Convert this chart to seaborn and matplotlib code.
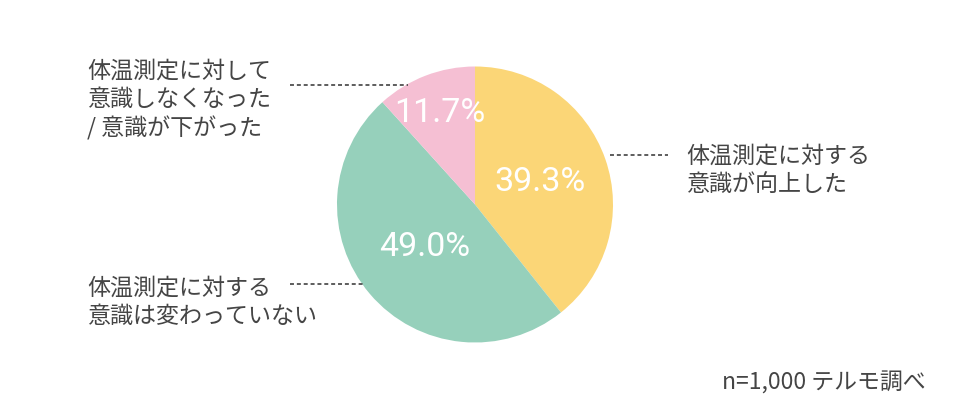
import numpy as np
import matplotlib
matplotlib.use("Agg")
import matplotlib.pyplot as plt
import seaborn as sns

categories = ["体温測定に対する\n意識が向上した",
              "体温測定に対する\n意識は変わっていない",
              "体温測定に対して\n意識しなくなった\n/ 意識が下がった"]
shares = [39.3, 49.0, 11.7]
colors = ["#FBD677", "#96D0BB", "#F5BFD3"]
note = "n=1,000 テルモ調べ"

sns.set_theme(style="white")
plt.rcParams['font.family'] = ['Noto Sans CJK JP', 'DejaVu Sans']

W, H = 960, 420
fig = plt.figure(figsize=(W / 100, H / 100), dpi=100)

# pie centre / radius in pixels
cx, cy, r = 475, 204.5, 138
ax = fig.add_axes([(cx - r) / W, (H - cy - r) / H, 2 * r / W, 2 * r / H])
wedges, _ = ax.pie(shares, colors=colors, startangle=90, counterclock=False,
                   radius=1, wedgeprops=dict(linewidth=0))
ax.set_xlim(-1, 1)
ax.set_ylim(-1, 1)
ax.set_aspect('equal')
ax.axis('off')

# percent labels inside the wedges
pct_dist = [0.50, 0.48, 0.71]
for w, val, d in zip(wedges, shares, pct_dist):
    ang = np.deg2rad((w.theta1 + w.theta2) / 2)
    ax.text(d * np.cos(ang), d * np.sin(ang), f"{val:.1f}%", color="white",
            fontsize=24.5, family=['Roboto', 'DejaVu Sans'],
            ha='center', va='center')

# overlay in pixel coords for category labels and leader lines
ov = fig.add_axes([0, 0, 1, 1])
ov.set_xlim(0, W)
ov.set_ylim(H, 0)
ov.axis('off')

line_kw = dict(color="#505050", lw=1.3, dashes=(2.2, 1.6))
ov.plot([290, 408], [85, 85], **line_kw)
ov.plot([610, 668], [155, 155], **line_kw)
ov.plot([290, 364], [284, 284], **line_kw)

txt_kw = dict(color="#454545", fontsize=16.6, linespacing=1.3, va='center')
ov.text(686, 170, categories[0], ha='left', **txt_kw)
ov.text(87, 302, categories[1], ha='left', **txt_kw)
ov.text(87, 100, categories[2], ha='left', **txt_kw)
ov.text(926, 383, note, ha='right', va='center', color="#454545", fontsize=16.5)

fig.savefig("out.png", dpi=100)
